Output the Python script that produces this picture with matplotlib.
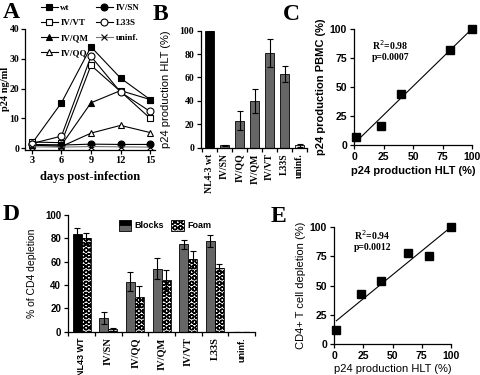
import numpy as np
import matplotlib; matplotlib.use("Agg")
import matplotlib.pyplot as plt
from matplotlib.patches import Rectangle, Patch
from matplotlib.legend_handler import HandlerBase

SERIF = "Liberation Serif"; SANS = "Liberation Sans"
GRAY = "#666666"
plt.rcParams["hatch.linewidth"] = 1.0

# ---- panel A: p24 kinetics
days = [3, 6, 9, 12, 15]
a_wt = [1.5, 15.2, 34.0, 23.5, 16.3]
a_ivvt = [2.0, 1.8, 27.8, 19.0, 10.0]
a_l33s = [1.5, 4.0, 30.8, 18.8, 12.3]
a_ivqm = [1.0, 1.0, 15.2, 19.3, 16.3]
a_ivqq = [1.0, 0.5, 5.0, 7.6, 5.2]
a_ivsn = [1.2, 1.0, 1.3, 1.2, 1.2]
a_uninf = [0.4, 0.3, 0.5, 0.4, 0.3]

# ---- panel B: p24 production HLT
b_cats = ["NL4-3 wt", "IV/SN", "IV/QQ", "IV/QM", "IV/VT", "L33S", "uninf."]
b_vals = [100, 2, 23, 40, 81, 63, 2]
b_err = [0, 0.6, 8, 10, 12, 7, 1]

# ---- panel C: HLT vs PBMC
c_x = [2, 23, 40, 81, 100]
c_y = [7, 16, 44, 82, 100]

# ---- panel D: CD4 depletion
d_cats = ["NL43 WT", "IV/SN", "IV/QQ", "IV/QM", "IV/VT", "L33S", "uninf."]
d_blocks = [84, 12, 43, 54, 75, 78, 0]
d_blocks_err = [5, 5, 8, 9, 4, 5, 0]
d_foam = [80, 2, 30, 44, 62, 55, 0]
d_foam_err = [5, 1.5, 9, 9, 7, 3, 0]

# ---- panel E: HLT vs CD4 depletion
e_x = [2, 23, 40, 63, 81, 100]
e_y = [12, 43, 54, 78, 75, 100]

fig = plt.figure(figsize=(4.8, 3.75), dpi=100)
W, H = 480, 375
def axbox(l, t, r, b):
    return fig.add_axes([l / W, 1 - b / H, (r - l) / W, (b - t) / H])
def clean(ax, lw=0.9):
    for s in ("top", "right"): ax.spines[s].set_visible(False)
    for s in ("left", "bottom"): ax.spines[s].set_linewidth(lw)
    ax.tick_params(direction="out", length=3, width=lw, pad=2)
def fonts(labels, fam, size):
    for t in labels:
        t.set_fontfamily(fam); t.set_fontweight("bold"); t.set_fontsize(size)

# A
ax = axbox(25, 29, 155, 149.5)
clean(ax)
ax.tick_params(axis="y", pad=1)
series = [("wt", a_wt, "s", "black"), ("IV/VT", a_ivvt, "s", "white"),
          ("IV/QM", a_ivqm, "^", "black"), ("IV/QQ", a_ivqq, "^", "white"),
          ("IV/SN", a_ivsn, "o", "black"), ("L33S", a_l33s, "o", "white"),
          ("uninf.", a_uninf, "x", "black")]
hs = []
for lab, vals, mk, fc in series:
    col = "#777777" if lab == "uninf." else "black"
    h, = ax.plot(days, vals, color=col, lw=0.8, marker=mk, ms=5, mfc=fc, mec="black", mew=0.8, label=lab)
    hs.append(h)
ax.set_xlim(2.3, 15.5); ax.set_ylim(-0.5, 40)
ax.set_xticks(days); ax.set_yticks([0, 10, 20, 30, 40])
fonts(ax.get_xticklabels(), SERIF, 7.5)
fonts(ax.get_yticklabels(), SERIF, 7)
ax.set_xlabel("days post-infection", family=SERIF, weight="bold", fontsize=9, labelpad=4)
ax.set_ylabel("p24 ng/ml", family=SERIF, weight="bold", fontsize=7.5)
ax.yaxis.set_label_coords(-14.5 / 130, 0.5)
fig.legend(handles=hs, ncol=2, loc="upper left", bbox_to_anchor=(36 / W, 1 + 1 / H), frameon=False,
           prop={"family": SERIF, "weight": "bold", "size": 6.5}, borderpad=0, handlelength=1.9,
           handletextpad=0.3, columnspacing=0.8, labelspacing=0.75)

# B
ax = axbox(201, 30.7, 307, 147.7)
clean(ax)
xb = np.arange(len(b_cats))
bcol = ["black"] + [GRAY] * 5 + ["#dddddd"]
ax.bar(xb, b_vals, width=0.62, color=bcol, edgecolor="black", lw=0.6,
       yerr=b_err, error_kw=dict(ecolor="black", elinewidth=0.8, capsize=2, capthick=0.8))
ax.set_xlim(-0.57, 6.36); ax.set_ylim(0, 100)
ax.set_yticks([0, 20, 40, 60, 80, 100])
ax.set_xticks(xb); ax.set_xticklabels(b_cats, rotation=90)
ax.set_xticks(np.arange(-0.5, 6.6, 1), minor=True)
ax.tick_params(axis="x", which="major", length=0, pad=4)
ax.tick_params(axis="x", which="minor", direction="out", length=3, width=0.9)
fonts(ax.get_xticklabels() + ax.get_yticklabels(), SERIF, 7)
ax.set_ylabel("p24 production HLT (%)", family=SANS, fontsize=8, labelpad=6)

# C
ax = axbox(354, 29, 472, 145)
clean(ax)
ax.plot(c_x, c_y, "s", color="black", ms=5.5, clip_on=False, zorder=3)
k, b0 = np.polyfit(c_x, c_y, 1)
xx = np.array([min(c_x), max(c_x)])
ax.plot(xx, k * xx + b0, color="black", lw=0.8, clip_on=False)
ax.set_xlim(0, 100); ax.set_ylim(0, 100)
ax.set_xticks([0, 25, 50, 75, 100]); ax.set_yticks([0, 25, 50, 75, 100])
fonts(ax.get_xticklabels() + ax.get_yticklabels(), SANS, 7.5)
ax.set_xlabel("p24 production HLT (%)", family=SANS, weight="bold", fontsize=8, labelpad=3)
ax.set_ylabel("p24 production PBMC (%)", family=SANS, weight="bold", fontsize=8, labelpad=3)
ax.text(15, 92, "R$^2$=0.98\np=0.0007", family=SERIF, weight="bold", fontsize=7, va="top", linespacing=1.1)

# D
class SplitHandler(HandlerBase):
    def create_artists(self, legend, orig_handle, xd, yd, w, h, fontsize, trans):
        top = Rectangle((-xd, -yd + h / 2), w, h / 2, fc="black", ec="black", lw=0.6, transform=trans)
        bot = Rectangle((-xd, -yd), w, h / 2, fc=GRAY, ec="black", lw=0.6, transform=trans)
        return [top, bot]

ax = axbox(68, 215, 255, 331.7)
clean(ax)
xd = np.arange(len(d_cats))
bw = 0.337
bc = ["black"] + [GRAY] * 6
ekw = dict(ecolor="black", elinewidth=0.8, capsize=2, capthick=0.8)
ax.bar(xd - bw / 2, d_blocks, width=bw, color=bc, edgecolor="black", lw=0.6, yerr=d_blocks_err, error_kw=ekw)
ax.bar(xd + bw / 2, d_foam, width=bw, color="white", edgecolor="black", lw=0, hatch="OOO")
ax.bar(xd + bw / 2, d_foam, width=bw, fill=False, edgecolor="black", lw=0.6, yerr=d_foam_err, error_kw=ekw)
ax.set_xlim(-0.51, 6.5); ax.set_ylim(0, 100)
ax.set_yticks([0, 20, 40, 60, 80, 100])
ax.set_xticks(xd); ax.set_xticklabels(d_cats, rotation=90)
ax.set_xticks(np.arange(-0.5, 6.6, 1), minor=True)
ax.tick_params(axis="x", which="major", length=0, pad=4)
ax.tick_params(axis="x", which="minor", direction="out", length=3, width=0.9)
fonts(ax.get_yticklabels(), SANS, 7)
for t in ax.get_xticklabels():
    sans = t.get_text() in ("NL43 WT", "uninf.")
    fonts([t], SANS if sans else SERIF, 6.5 if sans else 7.5)
ax.set_ylabel("% of CD4 depletion", family=SANS, fontsize=7.5, labelpad=6)
hb = Patch(label="Blocks")
hf = Patch(facecolor="white", edgecolor="black", hatch="OOO", lw=0.6, label="Foam")
ax.legend(handles=[hb, hf], handler_map={hb: SplitHandler()}, loc="upper left",
          bbox_to_anchor=(114 / W, 1 - 215 / H), bbox_transform=fig.transFigure, ncol=2, frameon=False,
          prop={"family": SANS, "weight": "bold", "size": 6.5}, borderpad=0, handlelength=1.4,
          handleheight=1.6, handletextpad=0.4, columnspacing=0.8)

# E
ax = axbox(334, 227, 451, 344)
clean(ax)
ax.plot(e_x, e_y, "s", color="black", ms=5.5, clip_on=False, zorder=3)
k, b0 = np.polyfit(e_x, e_y, 1)
xx = np.array([min(e_x), max(e_x)])
ax.plot(xx, k * xx + b0, color="black", lw=0.8, clip_on=False)
ax.set_xlim(0, 100); ax.set_ylim(0, 100)
ax.set_xticks([0, 25, 50, 75, 100]); ax.set_yticks([0, 25, 50, 75, 100])
fonts(ax.get_xticklabels() + ax.get_yticklabels(), SANS, 7.5)
ax.set_xlabel("p24 production HLT (%)", family=SANS, fontsize=8, labelpad=2)
ax.set_ylabel("CD4+ T cell depletion (%)", family=SANS, fontsize=8, labelpad=3)
ax.text(17, 99, "R$^2$=0.94\np=0.0012", family=SERIF, weight="bold", fontsize=7, va="top", linespacing=1.1)

# panel letters
for lab, x, y in [("A", 3, 2), ("B", 153, 4), ("C", 283, 4), ("D", 3, 204), ("E", 271, 206)]:
    fig.text(x / W, 1 - y / H, lab, family=SERIF, weight="bold", fontsize=17, va="top")

fig.savefig("out.png", dpi=100)
